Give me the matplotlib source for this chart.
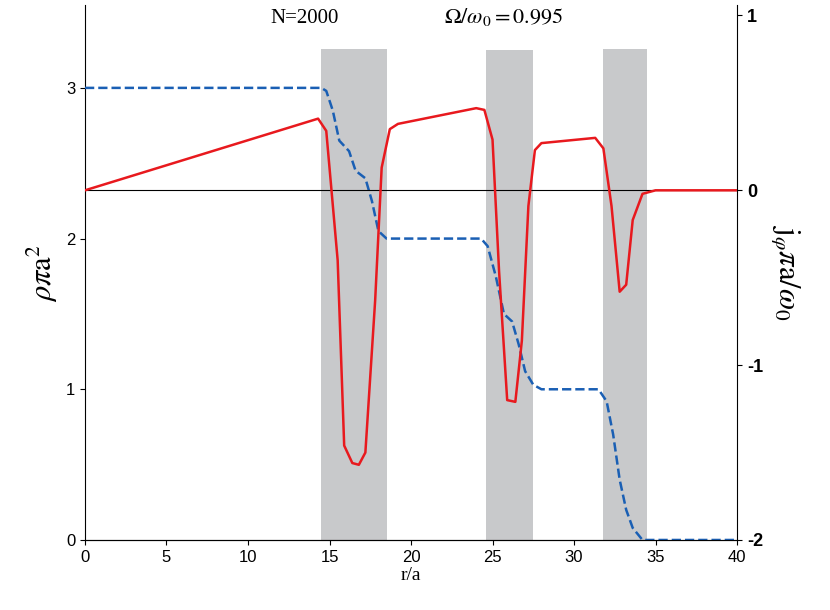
import matplotlib.pyplot as plt

plt.rcParams["mathtext.fontset"] = "stix"
plt.rcParams["axes.unicode_minus"] = False
plt.rcParams["font.family"] = "Liberation Sans"

# density (dashed blue), left axis
r_rho = [0, 14.5, 14.8, 15.2, 15.6, 16.2, 16.6, 17.2, 17.6, 18.0, 18.5, 24.3, 24.7, 25.2,
         25.7, 26.2, 26.6, 27.0, 27.5, 28.0, 31.5, 32.0, 32.4, 32.8, 33.2, 33.6, 34.2, 40]
rho = [3, 3, 2.98, 2.85, 2.65, 2.58, 2.45, 2.4, 2.25, 2.05, 2.0, 2.0, 1.95, 1.75,
       1.5, 1.45, 1.3, 1.12, 1.03, 1.0, 1.0, 0.92, 0.7, 0.4, 0.2, 0.08, 0.0, 0.0]

# current (solid red), right axis
r_j = [0, 14.3, 14.8, 15.5, 15.9, 16.4, 16.8, 17.2, 17.8, 18.2, 18.7, 19.2, 24.0, 24.5,
       25.0, 25.4, 25.9, 26.4, 26.8, 27.2, 27.6, 28.0, 31.3, 31.8, 32.3, 32.8, 33.2, 33.6,
       34.2, 35, 40]
j = [0, 0.41, 0.34, -0.4, -1.46, -1.56, -1.57, -1.5, -0.63, 0.13, 0.35, 0.38, 0.47, 0.46,
     0.29, -0.46, -1.2, -1.21, -0.86, -0.09, 0.23, 0.27, 0.30, 0.24, -0.09, -0.58, -0.54, -0.17,
     -0.02, 0, 0]

# shaded regions (r start, r end, top in rho units)
bands = [(14.5, 18.5, 3.26), (24.6, 27.5, 3.25), (31.8, 34.5, 3.26)]

fig = plt.figure(figsize=(8.3, 6.1), dpi=100)
ax = fig.add_axes([0.1024, 0.1148, 0.7856, 0.877])
for a, b, top in bands:
    ax.fill_between([a, b], 0, top, color="#c8c9cb", lw=0, zorder=0)
ax.plot(r_rho, rho, "--", color="#1a5fb4", lw=1.8, zorder=3)
ax.set_xlim(0, 40)
ax.set_ylim(0, 3.55)
ax.set_xticks(range(0, 41, 5))
ax.set_yticks([0, 1, 2, 3])
ax.spines["top"].set_visible(False)
ax.spines["right"].set_visible(False)
ax.tick_params(direction="out", labelsize=12)
ax.set_xlabel("r/a", fontsize=14, family="Liberation Serif", labelpad=2)
ax.set_ylabel(r"$\rho\pi\mathrm{a}^2$", fontsize=22)

ax2 = ax.twinx()
ax2.plot(r_j, j, color="#e8191e", lw=1.8, zorder=3)
ax2.axhline(0, color="black", lw=0.8)
ax2.set_ylim(-2, 1.06)
ax2.set_yticks([-2, -1, 0, 1])
ax2.spines["top"].set_visible(False)
ax2.spines["left"].set_visible(False)
ax2.tick_params(direction="out", labelsize=13)
for t in ax2.get_yticklabels():
    t.set_fontweight("bold")
ax2.set_ylabel(r"$\mathrm{j}_\varphi\pi\mathrm{a}/\omega_0$", fontsize=22,
               rotation=270, labelpad=28)

ax.text(13.5, 3.43, "N=2000", fontsize=15, family="Liberation Serif", ha="center")
ax.text(25.7, 3.43, r"$\Omega/\omega_0\mathrm{=0.995}$", fontsize=16, ha="center")

plt.savefig("out.png")
